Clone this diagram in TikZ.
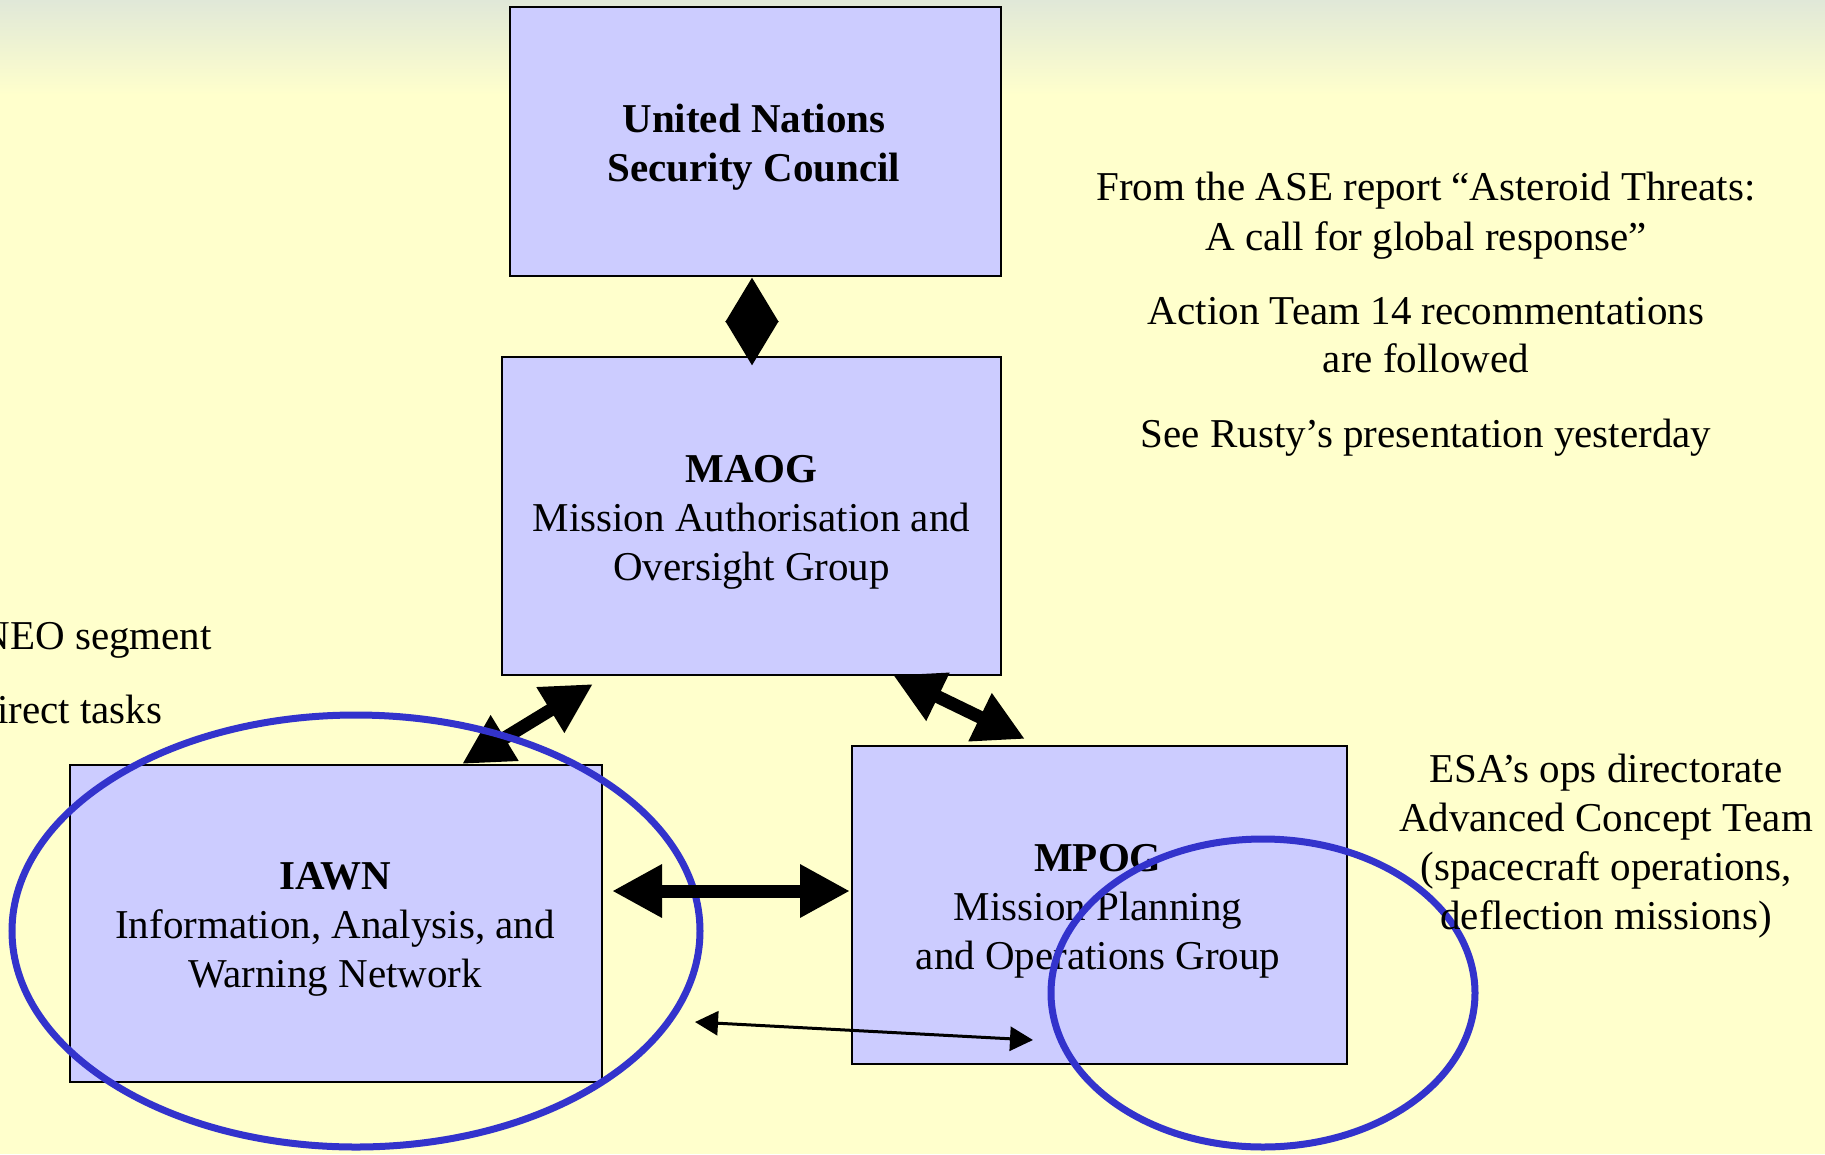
\documentclass[tikz,border=0pt]{standalone}
\usepackage{fontspec}
\setmainfont{Liberation Serif}
\usetikzlibrary{arrows.meta,shapes.geometric,calc}
\definecolor{bgyellow}{HTML}{FFFFCC}
\definecolor{bgtop}{HTML}{E0E8D8}
\definecolor{boxblue}{HTML}{CCCCFF}
\definecolor{ringblue}{HTML}{3333CC}
\newcommand\bigtxt{\fontsize{41}{49}\selectfont}
\begin{document}
\begin{tikzpicture}[x=1pt,y=-1pt,
  orgbox/.style={draw=black,line width=2pt,fill=boxblue,inner sep=0pt},
  boxtext/.style={inner sep=0pt,align=center,font=\bigtxt},
  plain/.style={inner sep=0pt,font=\bigtxt},
  ring/.style={ellipse,draw=ringblue,line width=7pt,inner sep=0pt},
  fatarrow/.style={line width=13pt,{Triangle[length=50pt,width=50pt]}-{Triangle[length=50pt,width=50pt]}},
  shortfat/.style={line width=13pt,{Triangle[length=45pt,width=50pt]}-{Triangle[length=45pt,width=50pt]}},
  thinarrow/.style={line width=3pt,{Triangle[length=23pt,width=24pt]}-{Triangle[length=23pt,width=24pt]}}]
\useasboundingbox (0,0) rectangle (1825,1154);
\clip (0,0) rectangle (1825,1154);
\fill[bgyellow] (0,0) rectangle (1825,1154);
\shade[top color=bgtop,bottom color=bgyellow] (0,0) rectangle (1825,95);

% boxes
\node[orgbox,minimum width=491pt,minimum height=269pt] (un) at (755.5,141.5) {};
\node[orgbox,minimum width=499pt,minimum height=318pt] (maog) at (751.5,516) {};
\node[orgbox,minimum width=532pt,minimum height=317pt] (iawn) at (336,923.5) {};
\node[orgbox,minimum width=495pt,minimum height=318pt] (mpog) at (1099.5,905) {};
\node[boxtext] (untext) at ([xshift=-1.5pt,yshift=-6pt]un.center)
  {\bfseries United Nations\\\bfseries Security Council};
\node[boxtext] (maogtext) at ([yshift=-6pt]maog.center)
  {\bfseries MAOG\\Mission Authorisation and\\Oversight Group};
\node[boxtext] (iawntext) at ([xshift=-1pt,yshift=-6pt]iawn.center)
  {\bfseries IAWN\\Information, Analysis, and\\Warning Network};
\node[boxtext] (mpogtext) at ([xshift=-1.5pt,yshift=-6pt]mpog.center)
  {\bfseries MPOG\\Mission Planning\\and Operations Group};

% thick connectors under the rings
\draw[shortfat] ([xshift=-3.5pt]un.south) -- ([xshift=0.5pt,yshift=-10pt]maog.north);
\draw[fatarrow] ([xshift=126pt]iawn.north) -- ([xshift=-158.5pt,yshift=-8pt]maog.south);
\draw[fatarrow] ([xshift=141.5pt,yshift=1pt]maog.south) -- ([xshift=-74.5pt,yshift=6pt]mpog.north);

% rings
\node[ring,minimum width=688pt,minimum height=432pt] (ring1) at (356,931) {};
\node[ring,minimum width=424pt,minimum height=308pt] (ring2) at (1263,993) {};

% connectors over the rings
\draw[fatarrow] ([xshift=9pt,yshift=32.5pt]iawn.east) -- ([xshift=-1pt,yshift=14pt]mpog.west);
\coordinate (t1) at (695,1022);
\coordinate (t2) at (1033,1040);
\draw[thinarrow] (t1) -- (t2);

% side texts
\node[plain,anchor=base] (r1) at (1426,200) {From the ASE report “Asteroid Threats:};
\node[plain,anchor=base] (r2) at (1426,250) {A call for global response”};
\node[plain,anchor=base] (r3) at (1426,324) {Action Team 14 recommentations};
\node[plain,anchor=base] (r4) at (1426,372) {are followed};
\node[plain,anchor=base] (r5) at (1426,447) {See Rusty’s presentation yesterday};
\node[plain,anchor=base] (e1) at (1606,782) {ESA’s ops directorate};
\node[plain,anchor=base] (e2) at (1606,831) {Advanced Concept Team};
\node[plain,anchor=base] (e3) at (1606,880) {(spacecraft operations,};
\node[plain,anchor=base] (e4) at (1606,929) {deflection missions)};
\node[plain,anchor=base east] (l1) at (212,649) {NEO segment};
\node[plain,anchor=base west] (l2) at (-3,723) {irect tasks};
\end{tikzpicture}
\end{document}
